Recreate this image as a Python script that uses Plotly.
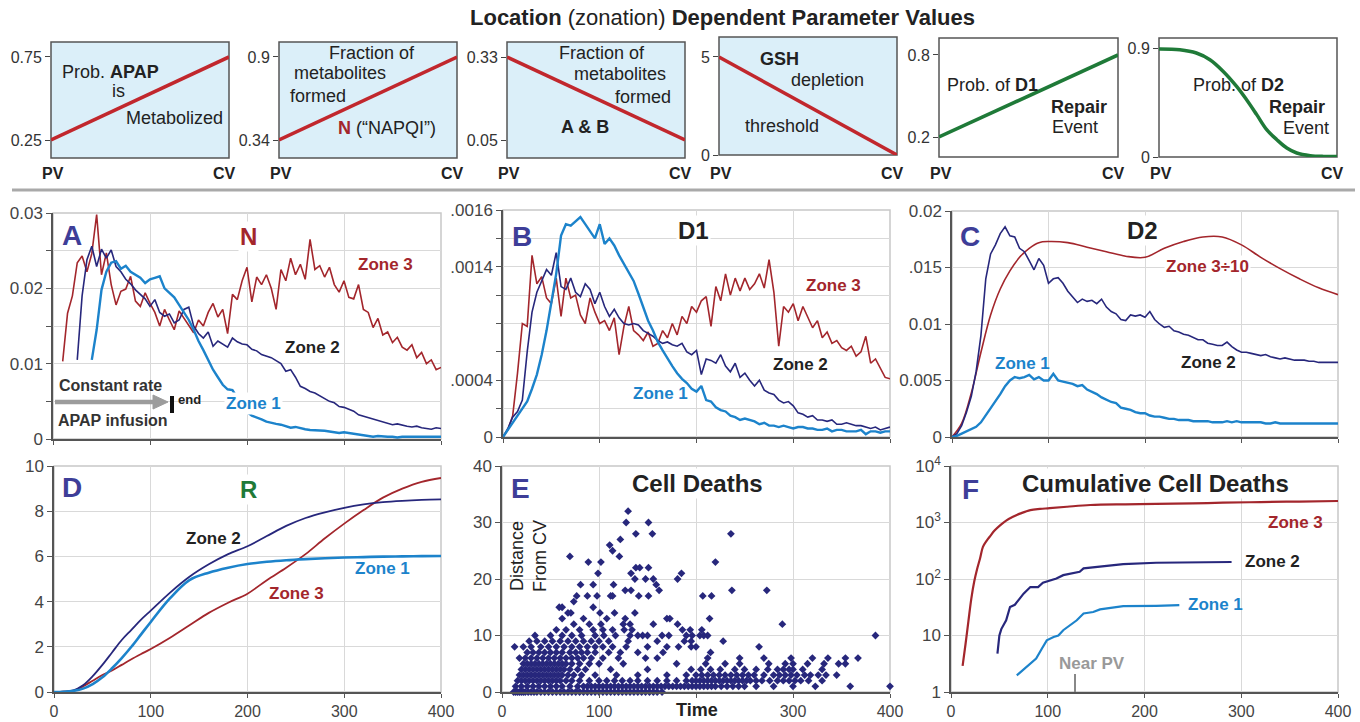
import plotly.graph_objects as go

W, H = 1360, 722
FONT = "Liberation Sans, Arial, sans-serif"

RED = "#a3262c"
NAVY = "#27277c"
BLUE = "#1c83cb"
GREEN = "#1f7a38"
LETTER = "#3e3e98"
TOPRED = "#c1272d"
PANEL_BG = "#dbeff9"

# ---------------- data: zonation parameter panels ----------------
zone_pos = [0, 1]                      # PV -> CV
prob_apap = [0.25, 0.75]
frac_napqi = [0.34, 0.9]
frac_ab = [0.33, 0.05]
gsh_threshold = [5, 0]
prob_d1_repair = [0.2, 0.8]
d2_pos = [0, 0.117, 0.21, 0.286, 0.361, 0.436, 0.492, 0.549, 0.605, 0.662, 0.718, 0.774, 0.85, 0.925, 1.0]
prob_d2_repair = [0.892, 0.886, 0.859, 0.804, 0.707, 0.583, 0.473, 0.35, 0.226, 0.143, 0.074, 0.033, 0.011, 0.005, 0.005]

top_tickvals = [[0.25, 0.75], [0.34, 0.9], [0.05, 0.33], [0, 5], [0.2, 0.8], [0, 0.9]]
top_ticktext = [["0.25", "0.75"], ["0.34", "0.9"], ["0.05", "0.33"], ["0", "5"], ["0.2", "0.8"], ["0", "0.9"]]

# ---------------- data: time courses (t = 0,5,...,400) ----------------
T5 = list(range(0, 401, 5))

n_zone3 = [None, None, 0.0103, 0.0167, 0.0190, 0.0234, 0.0243, 0.0222, 0.0246, 0.0298,
           0.0218, 0.0247, 0.0205, 0.0178, 0.0196, 0.0199, 0.0216, 0.0183, 0.0176, 0.0194,
           0.0180, 0.0168, 0.0150, 0.0172, 0.0158, 0.0145, 0.0170, 0.0160, 0.0150, 0.0141,
           0.0158, 0.0150, 0.0168, 0.0180, 0.0162, 0.0172, 0.0140, 0.0192, 0.0185, 0.0210,
           0.0228, 0.0182, 0.0215, 0.0205, 0.0218, 0.0200, 0.0172, 0.0225, 0.0210, 0.0240,
           0.0218, 0.0232, 0.0212, 0.0265, 0.0225, 0.0230, 0.0215, 0.0228, 0.0205, 0.0195,
           0.0210, 0.0188, 0.0186, 0.0205, 0.0172, 0.0168, 0.0148, 0.0160, 0.0138, 0.0142,
           0.0128, 0.0135, 0.0122, 0.0118, 0.0125, 0.0108, 0.0115, 0.0100, 0.0105, 0.0092,
           0.0095]
n_zone2 = [None, None, None, None, None, 0.0105, 0.0190, 0.0238, 0.0256, 0.0229,
           0.0252, 0.0240, 0.0251, 0.0229, 0.0222, 0.0212, 0.0206, 0.0198, 0.0192, 0.0186,
           0.0176, 0.0185, 0.0168, 0.0163, 0.0166, 0.0154, 0.0158, 0.0172, 0.0175, 0.0150,
           0.0140, 0.0134, 0.0142, 0.0123, 0.0130, 0.0126, 0.0122, 0.0134, 0.0129, 0.0126,
           0.0125, 0.0119, 0.0117, 0.0112, 0.0110, 0.0108, 0.0104, 0.0100, 0.0090, 0.0092,
           0.0082, 0.0070, 0.0067, 0.0063, 0.0061, 0.0057, 0.0054, 0.0050, 0.0048, 0.0043,
           0.0042, 0.0040, 0.0037, 0.0032, 0.0030, 0.0028, 0.0026, 0.0025, 0.0023, 0.0021,
           0.0019, 0.0020, 0.0018, 0.0017, 0.0016, 0.0017, 0.0015, 0.0014, 0.0013, 0.0015,
           0.0014]
n_zone1 = [None, None, None, None, None, None, None, None, 0.0105, 0.0145,
           0.0198, 0.0222, 0.0234, 0.0236, 0.0226, 0.0230, 0.0222, 0.0218, 0.0214, 0.0207,
           0.0212, 0.0214, 0.0216, 0.0200, 0.0194, 0.0188, 0.0178, 0.0168, 0.0158, 0.0145,
           0.0130, 0.0118, 0.0105, 0.0092, 0.0082, 0.0072, 0.0066, 0.0065, 0.0055, 0.0045,
           0.0036, 0.0031, 0.0029, 0.0026, 0.0023, 0.0021, 0.0020, 0.0019, 0.0017, 0.0015,
           0.0016, 0.0014, 0.0013, 0.0012, 0.0012, 0.0011, 0.0011, 0.0010, 0.0009, 0.0008,
           0.0009, 0.0008, 0.0007, 0.0006, 0.0005, 0.0004, 0.0003, 0.0004, 0.0003, 0.0003,
           0.0003, 0.0002, 0.0003, 0.0003, 0.0002, 0.0003, 0.0002, 0.0003, 0.0003, 0.0003,
           0.0003]

d1_zone1 = [0, 0.00005, 0.0001, 0.00015, 0.0002, 0.00025, 0.00034, 0.00044, 0.00058, 0.00075,
            0.00095, 0.00115, 0.00142, 0.00150, 0.00149, 0.00152, 0.00155, 0.00150, 0.00145, 0.00140,
            0.00150, 0.00136, 0.00140, 0.00135, 0.00128, 0.00122, 0.00116, 0.00110, 0.00101, 0.00092,
            0.00082, 0.00075, 0.00067, 0.00061, 0.00055, 0.00050, 0.00045, 0.00041, 0.00038, 0.00034,
            0.00032, 0.00036, 0.00026, 0.00025, 0.00021, 0.00019, 0.00018, 0.00015, 0.00014, 0.00012,
            0.00013, 0.00012, 0.00011, 0.00009, 0.00010, 0.00008, 0.00008, 0.00007, 0.00008, 0.00007,
            0.00006, 0.00007, 0.00007, 0.00006, 0.00006, 0.00005, 0.00005, 0.00006, 0.00004, 0.00005,
            0.00005, 0.00004, 0.00004, 0.00004, 0.00005, 0.00002, 0.00004, 0.00004, 0.00003, 0.00004,
            0.00004]
d1_zone2 = [0, 0.00006, 0.00014, 0.00018, 0.00026, 0.00060, 0.00088, 0.00102, 0.00110, 0.00118,
            0.00114, 0.00130, 0.00106, 0.00104, 0.00112, 0.00102, 0.00099, 0.00108, 0.00104, 0.00094,
            0.00102, 0.00092, 0.00085, 0.00090, 0.00084, 0.00080, 0.00079, 0.00080, 0.00079, 0.00075,
            0.00073, 0.00071, 0.00068, 0.00066, 0.00067, 0.00065, 0.00064, 0.00066, 0.00060, 0.00058,
            0.00061, 0.00044, 0.00055, 0.00054, 0.00052, 0.00058, 0.00050, 0.00046, 0.00052, 0.00042,
            0.00045, 0.00040, 0.00036, 0.00040, 0.00033, 0.00031, 0.00030, 0.00026, 0.00024, 0.00025,
            0.00022, 0.00017, 0.00016, 0.00014, 0.00015, 0.00012, 0.00012, 0.00011, 0.00012, 0.00009,
            0.00009, 0.00010, 0.00009, 0.00008, 0.00008, 0.00007, 0.00006, 0.00007, 0.00005, 0.00006,
            0.00007]
d1_zone3 = [0, 0.00005, 0.00015, 0.00045, 0.00080, 0.00078, 0.00128, 0.00108, 0.00113, 0.00098,
            0.00094, 0.00112, 0.00085, 0.00112, 0.00098, 0.00100, 0.00086, 0.00080, 0.00098, 0.00088,
            0.00080, 0.00082, 0.00075, 0.00084, 0.00058, 0.00078, 0.00092, 0.00075, 0.00072, 0.00068,
            0.00074, 0.00064, 0.00066, 0.00075, 0.00070, 0.00080, 0.00072, 0.00085, 0.00080, 0.00092,
            0.00088, 0.00096, 0.00099, 0.00078, 0.00106, 0.00096, 0.00115, 0.00100, 0.00112, 0.00103,
            0.00112, 0.00104, 0.00108, 0.00115, 0.00105, 0.00125, 0.00102, 0.00064, 0.00092, 0.00088,
            0.00094, 0.00082, 0.00092, 0.00085, 0.00077, 0.00082, 0.00070, 0.00074, 0.00066, 0.00068,
            0.00063, 0.00061, 0.00064, 0.00057, 0.00060, 0.00071, 0.00052, 0.00055, 0.00048, 0.00042,
            0.00041]

d2_zone2 = [0, 0.0003, 0.0010, 0.0022, 0.0036, 0.0058, 0.0090, 0.0140, 0.0162, 0.0170,
            0.0180, 0.0186, 0.0178, 0.0177, 0.0167, 0.0164, 0.0156, 0.0148, 0.0158, 0.0152,
            0.0136, 0.0140, 0.0141, 0.0136, 0.0129, 0.0124, 0.0119, 0.0122, 0.0120, 0.0121,
            0.0118, 0.0122, 0.0115, 0.0111, 0.0109, 0.0104, 0.0103, 0.0108, 0.0107, 0.0108,
            0.0106, 0.0111, 0.0104, 0.0100, 0.0097, 0.0098, 0.0094, 0.0093, 0.0091, 0.0090,
            0.0088, 0.0086, 0.0086, 0.0083, 0.0082, 0.0081, 0.0081, 0.0084, 0.0080, 0.0077,
            0.0075, 0.0075, 0.0074, 0.0073, 0.0072, 0.0073, 0.0071, 0.0070, 0.0069, 0.0070,
            0.0069, 0.0068, 0.0068, 0.0068, 0.0067, 0.0067, 0.0066, 0.0066, 0.0066, 0.0066,
            0.0066]
d2_zone1 = [0, 0.0001, 0.0003, 0.0005, 0.0007, 0.0009, 0.0013, 0.0019, 0.0025, 0.0031,
            0.0038, 0.0045, 0.0050, 0.0053, 0.0052, 0.0053, 0.0055, 0.0051, 0.0053, 0.0050,
            0.0050, 0.0056, 0.0050, 0.0049, 0.0048, 0.0047, 0.0045, 0.0046, 0.0042, 0.0040,
            0.0038, 0.0035, 0.0033, 0.0031, 0.0030, 0.0026, 0.0025, 0.0024, 0.0022, 0.0021,
            0.0021, 0.0019, 0.0018, 0.0018, 0.0017, 0.0016, 0.0016, 0.0015, 0.0015, 0.0015,
            0.0014, 0.0014, 0.0014, 0.0014, 0.0013, 0.0013, 0.0013, 0.0014, 0.0013, 0.0014,
            0.0013, 0.0013, 0.0013, 0.0013, 0.0013, 0.0012, 0.0012, 0.0013, 0.0012, 0.0012,
            0.0012, 0.0012, 0.0012, 0.0012, 0.0012, 0.0012, 0.0012, 0.0012, 0.0012, 0.0012,
            0.0012]
d2_zone3_t = [0, 10, 20, 30, 40, 50, 60, 70, 80, 90, 100, 120, 140, 160, 180, 200, 220, 240, 260, 280, 300, 320, 340, 360, 380, 400]
d2_zone3_div10 = [0, 0.0012, 0.0039, 0.0075, 0.0108, 0.0131, 0.0147, 0.0159, 0.0167, 0.0172, 0.0173, 0.0172, 0.0168,
                  0.0164, 0.0160, 0.0159, 0.0167, 0.0173, 0.0177, 0.0177, 0.0170, 0.0159, 0.0149, 0.0140, 0.0132, 0.0126]

r_t = [0, 10, 20, 30, 40, 50, 60, 70, 80, 90, 100, 120, 140, 160, 180, 200, 220, 240, 260, 280, 300, 320, 340, 360, 380, 400]
r_zone1 = [0, 0.01, 0.05, 0.15, 0.35, 0.65, 1.05, 1.5, 2.0, 2.55, 3.1, 4.15, 4.95, 5.28, 5.5, 5.66, 5.76, 5.83, 5.88, 5.92, 5.95, 5.97, 5.99, 6.0, 6.01, 6.02]
r_zone2 = [0, 0.01, 0.07, 0.3, 0.7, 1.2, 1.75, 2.3, 2.75, 3.2, 3.6, 4.4, 5.1, 5.65, 6.1, 6.45, 6.9, 7.35, 7.7, 7.95, 8.15, 8.3, 8.4, 8.46, 8.5, 8.52]
r_zone3 = [0, 0.01, 0.05, 0.25, 0.5, 0.75, 0.95, 1.2, 1.45, 1.68, 1.9, 2.4, 2.95, 3.5, 3.95, 4.35, 4.95, 5.5, 6.1, 6.8, 7.45, 8.05, 8.6, 9.0, 9.3, 9.47]

# Cell deaths: distance-from-CV rows and the times of the deaths in each row
death_dist_rows = [0, 1, 2, 3, 4, 5, 6, 7, 8, 9, 10, 11, 12, 13, 14, 15, 16, 17, 18, 19, 20, 21, 22, 23, 24, 25, 26, 27, 28, 30, 32]
death_time_rows = [
    [12, 14, 16, 18, 20, 22, 24, 27, 30, 33, 36, 40, 44, 48, 52, 56, 60, 64, 68, 72, 76, 80, 84, 88, 92, 96, 100, 104, 108, 112, 116, 120, 124, 128, 132, 136, 140, 144, 148, 152, 156, 160, 165],
    [14, 20, 26, 32, 38, 44, 50, 56, 62, 70, 78, 84, 88, 92, 96, 100, 104, 108, 112, 116, 120, 124, 128, 132, 136, 140, 144, 148, 152, 156, 160, 164, 168, 172, 176, 180, 184, 188, 192, 196, 200, 204, 208, 212, 216, 220, 226, 232, 238, 244, 250, 262, 280, 300, 323, 359, 400],
    [16, 20, 24, 28, 32, 36, 40, 44, 48, 52, 56, 60, 66, 72, 80, 90, 100, 108, 116, 124, 132, 140, 150, 160, 170, 180, 190, 196, 200, 204, 208, 212, 216, 220, 224, 228, 232, 236, 240, 244, 248, 252, 256, 262, 268, 276, 284, 290, 296, 302, 308, 316, 330],
    [18, 22, 26, 30, 34, 38, 42, 46, 50, 54, 58, 62, 68, 74, 82, 96, 118, 140, 170, 190, 200, 206, 212, 218, 224, 230, 236, 242, 248, 254, 260, 270, 280, 286, 292, 298, 304, 312, 318, 326, 334, 345],
    [20, 24, 28, 32, 36, 40, 44, 48, 52, 56, 60, 64, 70, 78, 86, 112, 150, 195, 205, 215, 225, 240, 250, 262, 274, 284, 290, 296, 300, 310, 330],
    [22, 26, 30, 34, 38, 42, 46, 50, 54, 58, 62, 66, 72, 80, 90, 100, 125, 180, 210, 230, 245, 275, 292, 300, 315, 332, 347, 354],
    [18, 24, 30, 36, 42, 48, 54, 60, 66, 72, 78, 84, 92, 104, 120, 148, 160, 212, 245, 270, 298, 320, 336, 354, 367],
    [26, 32, 38, 44, 50, 56, 62, 70, 76, 82, 88, 96, 110, 122, 140, 166, 215],
    [13, 22, 30, 40, 48, 56, 64, 72, 80, 88, 96, 104, 114, 128, 150, 170, 182, 195, 200, 265],
    [28, 36, 44, 52, 60, 68, 76, 84, 92, 100, 110, 130, 160, 188, 195, 228],
    [34, 50, 62, 72, 82, 96, 105, 117, 132, 140, 145, 150, 165, 172, 190, 196, 204, 208, 212, 385],
    [56, 66, 80, 94, 104, 114, 126, 134, 186, 194, 206],
    [74, 90, 102, 125, 132, 156, 181, 289],
    [62, 84, 108, 127, 170, 173, 214],
    [68, 71, 101, 116, 137],
    [59, 62, 94],
    [74],
    [77, 88, 98, 112, 114, 141, 151, 207, 216],
    [127, 133, 162, 237, 273],
    [81, 94, 115, 159],
    [137, 148, 156, 181],
    [99, 133, 185],
    [138, 142, 151],
    [89, 102, 220],
    [70, 121],
    [114],
    [111],
    [122],
    [138, 155, 236],
    [128, 151],
    [130],
]

cum_zone3_t = [12, 15, 18, 21, 24, 27, 30, 33, 37, 40, 45, 51, 57, 64, 72, 82, 92, 102, 120, 144, 180, 212, 250, 281, 320, 360, 400]
cum_zone3 = [2.9, 7, 18, 45, 90, 150, 230, 370, 480, 560, 720, 900, 1080, 1260, 1450, 1660, 1740, 1790, 1900, 2040, 2100, 2130, 2180, 2240, 2300, 2350, 2400]
cum_zone2_t = [48, 50, 52, 55, 57, 61, 66, 71, 75, 82, 90, 95, 102, 109, 116, 126, 133, 137, 150, 178, 212, 247, 290]
cum_zone2 = [4.8, 10, 13, 16, 18.6, 32, 35, 45, 55, 72, 72, 86, 95, 102, 117, 125, 134, 154, 164, 183, 194, 196, 200]
cum_zone1_t = [68, 78, 88, 94, 99, 106, 111, 116, 123, 130, 137, 147, 154, 178, 212, 236]
cum_zone1 = [1.97, 2.8, 3.9, 5.9, 8.2, 9.4, 10, 12.4, 15, 18.6, 24.5, 26, 29, 33, 33.5, 34.5]

time_ticks = [0, 100, 200, 300, 400]

# ---------------- helpers ----------------
def xid(n):
    return "x" if n == 1 else f"x{n}"

def yid(n):
    return "y" if n == 1 else f"y{n}"

def line(x, y, n, color, width, shape="linear"):
    return go.Scatter(x=x, y=y, xaxis=xid(n), yaxis=yid(n), mode="lines",
                      line=dict(color=color, width=width, shape=shape),
                      connectgaps=False, hoverinfo="skip")

boxes = {1: (51, 229, 42, 158), 2: (279, 457, 42, 158), 3: (507, 685, 42, 158),
         4: (719, 897, 37, 155), 5: (939, 1118, 38, 157), 6: (1159, 1337, 38, 157),
         7: (53, 441, 213, 439), 8: (503, 890, 210, 437), 9: (952, 1338, 211, 437),
         10: (54, 441, 466, 692), 11: (502, 890, 466, 692), 12: (951, 1338, 466, 692)}

def dom(n):
    l, r, t, b = boxes[n]
    return [l / W, r / W], [1 - b / H, 1 - t / H]

layout = dict(width=W, height=H, margin=dict(l=0, r=0, t=0, b=0), autosize=False,
              template="none", paper_bgcolor="white", plot_bgcolor="rgba(0,0,0,0)",
              showlegend=False, font=dict(family=FONT, size=15, color="#333"))
shapes = []
annotations = []

def text(t, px, py, size=17, color="#222", bg=None, xanchor="center", angle=0):
    d = dict(text=t, x=px / W, y=1 - py / H, xref="paper", yref="paper", showarrow=False,
             font=dict(size=size, color=color, family=FONT), xanchor=xanchor, yanchor="middle",
             textangle=angle, borderpad=1)
    if bg:
        d["bgcolor"] = bg
    annotations.append(d)

def pline(x0, y0, x1, y1, color, width):
    shapes.append(dict(type="line", xref="paper", yref="paper", x0=x0 / W, x1=x1 / W,
                       y0=1 - y0 / H, y1=1 - y1 / H, line=dict(color=color, width=width)))

traces = []

# ---------------- top parameter panels ----------------
top_ranges = [[0.1416, 0.840], [0.2186, 1.001], [-0.0107, 0.3806], [0, 6.02], [0.0537, 0.924], [0, 0.983]]
for i in range(6):
    n = i + 1
    xd, yd = dom(n)
    layout["xaxis" if n == 1 else f"xaxis{n}"] = dict(
        domain=xd, range=[0, 1], anchor=yid(n), showticklabels=False, ticks="", showgrid=False,
        zeroline=False, showline=False, tickvals=[])
    layout["yaxis" if n == 1 else f"yaxis{n}"] = dict(
        domain=yd, range=top_ranges[i], anchor=xid(n), tickvals=top_tickvals[i], ticktext=top_ticktext[i],
        ticks="outside", ticklen=5, tickwidth=1.3, tickcolor="#444", showgrid=False, zeroline=False,
        showline=False, tickfont=dict(size=16, color="#333"))
    shapes.append(dict(type="rect", xref=f"{xid(n)} domain", yref=f"{yid(n)} domain", x0=0, x1=1, y0=0, y1=1,
                       fillcolor=PANEL_BG if n <= 4 else "white", line=dict(color="#555", width=1.5), layer="below"))
    l, r, t, b = boxes[n]
    text("<b>PV</b>", l + 2, 173, size=16)
    text("<b>CV</b>", r - 5, 173, size=16)

traces.append(line(zone_pos, prob_apap, 1, TOPRED, 3.5))
traces.append(line(zone_pos, frac_napqi, 2, TOPRED, 3.5))
traces.append(line(zone_pos, frac_ab, 3, TOPRED, 3.5))
traces.append(line(zone_pos, gsh_threshold, 4, TOPRED, 3.5))
traces.append(line(zone_pos, prob_d1_repair, 5, GREEN, 3.5))
traces.append(line(d2_pos, prob_d2_repair, 6, GREEN, 3.5, "spline"))

text("<b>Location</b> (zonation) <b>Dependent Parameter Values</b>", 722, 18, size=22, color="#222")
text("Prob. <b>APAP</b>", 60, 72, size=18, xanchor="left")
text("is", 118, 91, size=18)
text("Metabolized", 175, 118, size=18)
text("Fraction of", 372, 53, size=18)
text("metabolites", 340, 73, size=18)
text("formed", 318, 96, size=18)
text(f"<b><span style='color:{RED}'>N</span></b> (“NAPQI”)", 387, 128, size=18)
text("Fraction of", 602, 53, size=18)
text("metabolites", 620, 74, size=18)
text("formed", 643, 97, size=18)
text("<b>A &amp; B</b>", 585, 127, size=18)
text("<b>GSH</b>", 779, 59, size=18)
text("depletion", 828, 80, size=18)
text("threshold", 782, 126, size=18)
text("Prob. of <b>D1</b>", 992, 85, size=18)
text("<b>Repair</b>", 1079, 107, size=18)
text("Event", 1075, 127, size=18)
text("Prob. of <b>D2</b>", 1238, 85, size=18)
text("<b>Repair</b>", 1297, 107, size=18)
text("Event", 1306, 128, size=18)

pline(12, 190, 1355, 190, "#a9a9a9", 3)

# ---------------- data panels ----------------
GRID = "#d9d9d9"
AXC = "#555"

def data_axes(n, yr, ytv, ytt, ymin, xlabels, ytype="linear", xtv=None, xmin=None):
    xd, yd = dom(n)
    xtv = xtv if xtv is not None else time_ticks
    xaxis = dict(
        domain=xd, range=[0, 400], anchor=yid(n), tickvals=xtv,
        ticktext=[str(v) for v in xtv], showticklabels=xlabels,
        ticks="outside", ticklen=4, tickwidth=1.3, tickcolor=AXC, showline=True, linecolor=AXC,
        linewidth=1.5, showgrid=True, gridcolor=GRID, gridwidth=1, zeroline=False,
        tickfont=dict(size=16, color="#444"))
    if xmin:
        xaxis["minor"] = dict(tickvals=xmin, ticks="outside", ticklen=4, tickwidth=1.3, tickcolor=AXC,
                              showgrid=True, gridcolor=GRID, gridwidth=1)
    yaxis = dict(
        domain=yd, range=yr, type=ytype, anchor=xid(n), tickvals=ytv, ticktext=ytt,
        ticks="outside", ticklen=5, tickwidth=1.3, tickcolor=AXC, showline=True, linecolor=AXC,
        linewidth=1.5, showgrid=True, gridcolor=GRID, gridwidth=1, zeroline=False,
        tickfont=dict(size=17, color="#444"))
    if ymin:
        yaxis["minor"] = dict(tickvals=ymin, ticks="outside", ticklen=5, tickwidth=1.3, tickcolor=AXC,
                              showgrid=True, gridcolor=GRID, gridwidth=1)
    layout[f"xaxis{n}"] = xaxis
    layout[f"yaxis{n}"] = yaxis
    shapes.append(dict(type="rect", xref=f"{xid(n)} domain", yref=f"{yid(n)} domain", x0=0, x1=1, y0=0, y1=1,
                       line=dict(color="#c8c8c8", width=1.5), layer="below"))

# A : N
data_axes(7, [0, 0.03], [0, 0.01, 0.02, 0.03], ["0", "0.01", "0.02", "0.03"],
          [0.005, 0.015, 0.025], False)
traces.append(line(T5, n_zone3, 7, RED, 1.6))
traces.append(line(T5, n_zone2, 7, NAVY, 1.6))
traces.append(line(T5, n_zone1, 7, BLUE, 2.4))

# B : D1
data_axes(8, [0, 0.0016], [0, 0.0004, 0.0012, 0.0016], ["0", ".0004", ".0014", ".0016"],
          [0.0002, 0.0006, 0.0008, 0.001, 0.0014], False)
traces.append(line(T5, d1_zone3, 8, RED, 1.6))
traces.append(line(T5, d1_zone2, 8, NAVY, 1.6))
traces.append(line(T5, d1_zone1, 8, BLUE, 2.4))

# C : D2
data_axes(9, [0, 0.02], [0, 0.005, 0.01, 0.015, 0.02], ["0", "0.005", "0.01", ".015", "0.02"], None, False)
traces.append(line(d2_zone3_t, d2_zone3_div10, 9, RED, 1.6, "spline"))
traces.append(line(T5, d2_zone2, 9, NAVY, 1.6))
traces.append(line(T5, d2_zone1, 9, BLUE, 2.4))

# D : R
data_axes(10, [0, 10], [0, 2, 4, 6, 8, 10], ["0", "2", "4", "6", "8", "10"], None, True)
traces.append(line(r_t, r_zone3, 10, RED, 1.8, "spline"))
traces.append(line(r_t, r_zone2, 10, NAVY, 1.8, "spline"))
traces.append(line(r_t, r_zone1, 10, BLUE, 2.6, "spline"))

# E : cell deaths scatter
data_axes(11, [0, 40], [0, 10, 20, 30, 40], ["0", "10", "20", "30", "40"], None, True,
          xtv=[0, 100, 300, 400], xmin=[200])
ed_t, ed_d = [], []
for d, times in zip(death_dist_rows, death_time_rows):
    ed_t += times
    ed_d += [d] * len(times)
traces.append(go.Scatter(x=ed_t, y=ed_d, xaxis=xid(11), yaxis=yid(11), mode="markers",
                         marker=dict(symbol="diamond", size=6, color=NAVY, line=dict(width=0)),
                         hoverinfo="skip", cliponaxis=False))

# F : cumulative (log)
data_axes(12, [0, 4], [1, 10, 100, 1000, 10000],
          ["1", "10", "10<sup>2</sup>", "10<sup>3</sup>", "10<sup>4</sup>"], None, True, "log")
traces.append(line(cum_zone3_t, cum_zone3, 12, RED, 2.2, "spline"))
traces.append(line(cum_zone2_t, cum_zone2, 12, NAVY, 2.2))
traces.append(line(cum_zone1_t, cum_zone1, 12, BLUE, 2.2))

# ---------------- panel annotations ----------------
text("<b>A</b>", 72, 235, size=28, color=LETTER)
text("<b>N</b>", 248, 237, size=24, color=RED, bg="white")
text("<b>Zone 3</b>", 385, 264, size=17, color=RED)
text("<b>Zone 2</b>", 312, 347, size=17, color="#222")
text("<b>Zone 1</b>", 253, 403, size=17, color=BLUE, bg="white")
text("<b>Constant rate</b>", 110, 385, size=16, color="#333")
text("<b>APAP infusion</b>", 113, 420, size=16, color="#333")
text("<b>end</b>", 189, 399, size=13, color="#222")
# infusion arrow (shaft + head) and end bar
pline(55, 402, 156, 402, "#9c9c9c", 4.5)
shapes.append(dict(type="path", xref="paper", yref="paper",
                   path=f"M {153 / W},{1 - 395 / H} L {168 / W},{1 - 402 / H} L {153 / W},{1 - 409 / H} Z",
                   fillcolor="#9c9c9c", line=dict(color="#9c9c9c", width=1)))
pline(172, 413, 172, 396, "#111", 4)

text("<b>B</b>", 522, 237, size=28, color=LETTER)
text("<b>D1</b>", 693, 230, size=24, color="#222", bg="white")
text("<b>Zone 3</b>", 833, 285, size=17, color=RED)
text("<b>Zone 2</b>", 800, 365, size=17, color="#222")
text("<b>Zone 1</b>", 660, 393, size=17, color=BLUE)

text("<b>C</b>", 970, 237, size=28, color=LETTER)
text("<b>D2</b>", 1142, 230, size=24, color="#222", bg="white")
text("<b>Zone 3÷10</b>", 1207, 266, size=17, color=RED, bg="white")
text("<b>Zone 2</b>", 1208, 362, size=17, color="#222")
text("<b>Zone 1</b>", 1022, 363, size=17, color=BLUE)

text("<b>D</b>", 72, 487, size=28, color=LETTER)
text("<b>R</b>", 248, 490, size=24, color=GREEN, bg="white")
text("<b>Zone 2</b>", 213, 538, size=17, color="#222")
text("<b>Zone 1</b>", 382, 568, size=17, color=BLUE)
text("<b>Zone 3</b>", 296, 593, size=17, color=RED)

text("<b>E</b>", 520, 488, size=28, color=LETTER)
text("<b>Cell Deaths</b>", 698, 483, size=24, color="#222", bg="white")
text("Distance<br>From CV", 528, 556, size=18, color="#222", angle=-90)
text("<b>Time</b>", 697, 710, size=18, color="#222")

text("<b>F</b>", 970, 489, size=28, color=LETTER)
text("<b>Cumulative Cell Deaths</b>", 1155, 483, size=24, color="#222", bg="white")
text("<b>Zone 3</b>", 1295, 522, size=17, color=RED)
text("<b>Zone 2</b>", 1272, 561, size=17, color="#222")
text("<b>Zone 1</b>", 1215, 604, size=17, color=BLUE)
text("<b>Near PV</b>", 1092, 663, size=17, color="#999")
pline(1075, 692, 1075, 674, "#888", 2)

layout["shapes"] = shapes
layout["annotations"] = annotations

fig = go.Figure(data=traces, layout=layout)
fig.write_html("out.html", config={"displayModeBar": False},
               post_script="document.body.style.margin='0px';document.body.style.overflow='hidden';")
